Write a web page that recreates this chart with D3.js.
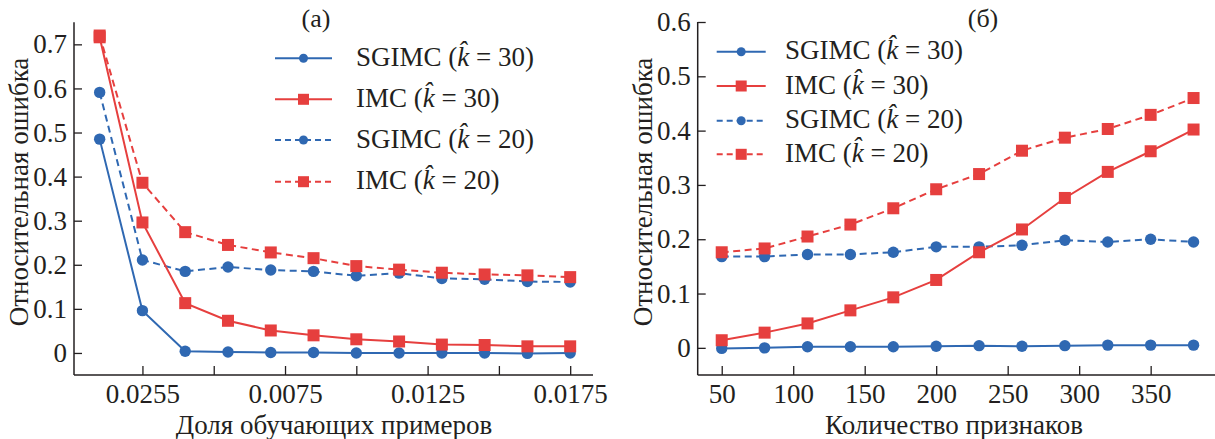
<!DOCTYPE html>
<html><head><meta charset="utf-8">
<script src="https://cdn.jsdelivr.net/npm/d3@7"></script>
<style>
html,body{margin:0;padding:0;background:#fff;}
</style></head>
<body>
<svg id="c" width="1215" height="439"></svg>
<script>
// ---- data (a) ----
const leftX = [0.001, 0.0025, 0.004, 0.0055, 0.007, 0.0085, 0.01, 0.0115, 0.013, 0.0145, 0.016, 0.0175];
const leftSgimc30 = [0.485, 0.096, 0.004, 0.002, 0.001, 0.001, 0.0, 0.0, 0.0, 0.0, -0.001, 0.0];
const leftImc30   = [0.716, 0.296, 0.113, 0.073, 0.051, 0.040, 0.031, 0.026, 0.019, 0.018, 0.015, 0.015];
const leftSgimc20 = [0.591, 0.211, 0.185, 0.195, 0.188, 0.185, 0.175, 0.181, 0.169, 0.167, 0.162, 0.161];
const leftImc20   = [0.720, 0.386, 0.274, 0.245, 0.228, 0.215, 0.197, 0.189, 0.182, 0.178, 0.176, 0.172];
const leftXTicks  = [0.0025, 0.005, 0.0075, 0.01, 0.0125, 0.015, 0.0175];
const leftXTickLabels = ["0.0255", "", "0.0075", "", "0.0125", "", "0.0175"];
const leftYTicks  = [0, 0.1, 0.2, 0.3, 0.4, 0.5, 0.6, 0.7];
// ---- data (б) ----
const rightX = [50, 80, 110, 140, 170, 200, 230, 260, 290, 320, 350, 380];
const rightSgimc30 = [-0.001, 0.0, 0.002, 0.002, 0.002, 0.003, 0.004, 0.003, 0.004, 0.005, 0.005, 0.005];
const rightImc30   = [0.014, 0.028, 0.045, 0.069, 0.093, 0.125, 0.176, 0.218, 0.276, 0.324, 0.362, 0.402];
const rightSgimc20 = [0.168, 0.168, 0.172, 0.172, 0.176, 0.186, 0.186, 0.189, 0.198, 0.195, 0.200, 0.195];
const rightImc20   = [0.176, 0.183, 0.205, 0.227, 0.257, 0.292, 0.320, 0.363, 0.387, 0.403, 0.429, 0.460];
const rightXTicks  = [50, 100, 150, 200, 250, 300, 350];
const rightYTicks  = [0, 0.1, 0.2, 0.3, 0.4, 0.5, 0.6];
// ---- labels ----
const seriesNames = ["SGIMC", "IMC", "SGIMC", "IMC"];
const seriesK = ["30", "30", "20", "20"];
const yTitle = "Относительная ошибка";
const leftXTitle = "Доля обучающих примеров";
const rightXTitle = "Количество признаков";

const BLUE = "#2f68b2", RED = "#e63f3e";
const FONT = "'Liberation Serif', Tinos, 'Times New Roman', 'DejaVu Serif', serif";
const INK = "#231f20";
const svg = d3.select("#c");
const FS = 27;

function fmtY(d){ return d === 0 ? "0" : d3.format(".1f")(d); }

function panel(cfg){
  const g = svg.append("g").attr("font-family", FONT);
  const x = d3.scaleLinear().domain(cfg.xDomain).range(cfg.xRange);
  const y = d3.scaleLinear().domain(cfg.yDomain).range(cfg.yRange);
  const ax = g.append("g").attr("transform", `translate(0,${cfg.yRange[0]})`)
    .call(d3.axisBottom(x).tickValues(cfg.xTicks).tickSize(-9).tickPadding(9)
      .tickFormat((d,i)=>cfg.xTickLabels ? cfg.xTickLabels[i] : d3.format("d")(d)));
  const ay = g.append("g").attr("transform", `translate(${cfg.xRange[0]},0)`)
    .call(d3.axisLeft(y).tickValues(cfg.yTicks).tickSize(-8).tickPadding(7).tickFormat(fmtY));
  [ax, ay].forEach(a=>{
    a.attr("font-family", FONT).attr("font-size", FS);
    a.select(".domain").attr("stroke", INK).attr("stroke-width",1.5);
    a.selectAll(".tick line").attr("stroke", INK).attr("stroke-width",1.3);
    a.selectAll("text").attr("font-size", FS).attr("font-family", FONT).attr("fill", INK);
  });
  ax.select(".domain").attr("d", `M${cfg.xRange[0]},0H${cfg.xRange[1]}`);
  ay.select(".domain").attr("d", `M0,${cfg.yRange[0]}V${cfg.yRange[1]}`);

  const line = d3.line().x((d,i)=>x(cfg.xs[i])).y(d=>y(d));
  const series = [
    {v: cfg.s[2], c: BLUE, dash: true, m: "c"},
    {v: cfg.s[0], c: BLUE, dash: false, m: "c"},
    {v: cfg.s[3], c: RED, dash: true, m: "s"},
    {v: cfg.s[1], c: RED, dash: false, m: "s"},
  ];
  series.forEach(s=>{
    g.append("path").attr("d", line(s.v)).attr("fill","none").attr("stroke", s.c)
      .attr("stroke-width", 2).attr("stroke-dasharray", s.dash ? "7,4.5" : null);
    s.v.forEach((d,i)=>{
      if (s.m === "c") g.append("circle").attr("cx", x(cfg.xs[i])).attr("cy", y(d)).attr("r", 5.7).attr("fill", s.c);
      else g.append("rect").attr("x", x(cfg.xs[i])-6).attr("y", y(d)-6).attr("width", 12).attr("height", 12).attr("fill", s.c);
    });
  });

  cfg.legendRows.forEach((ry, i)=>{
    const c = i % 2 === 0 ? BLUE : RED;
    const dash = i >= 2;
    const lx0 = cfg.legendX[0], lx1 = cfg.legendX[1], mx = (lx0+lx1)/2;
    g.append("line").attr("x1", lx0).attr("x2", lx1).attr("y1", ry).attr("y2", ry)
      .attr("stroke", c).attr("stroke-width", 2).attr("stroke-dasharray", dash ? "6,4" : null);
    if (i % 2 === 0) g.append("circle").attr("cx", mx).attr("cy", ry).attr("r", 4.5).attr("fill", c);
    else g.append("rect").attr("x", mx-5.5).attr("y", ry-5.5).attr("width", 11).attr("height", 11).attr("fill", c);
    const t = g.append("text").attr("x", cfg.legendText).attr("y", ry + 7.5).attr("font-size", FS).attr("fill", INK);
    t.append("tspan").text(seriesNames[i] + " (");
    t.append("tspan").attr("font-style","italic").text("k\u0302");
    t.append("tspan").text(" = " + seriesK[i] + ")");
  });

  g.append("text").attr("x", cfg.panelTitle[0]).attr("y", cfg.panelTitle[1]).attr("font-size", FS-1)
    .attr("text-anchor","middle").attr("fill", INK).text(cfg.panelTitle[2]);
  g.append("text").attr("transform", `translate(${cfg.yTitleX},${192}) rotate(-90)`)
    .attr("text-anchor","middle").attr("font-size", FS).attr("dy","0.35em").attr("fill", INK).text(yTitle);
  g.append("text").attr("x", cfg.xTitleX).attr("y", 433.5).attr("text-anchor","middle")
    .attr("font-size", FS).attr("fill", INK).text(cfg.xTitle);
}

panel({
  xDomain: [0.0001, 0.0183], xRange: [74, 593],
  yDomain: [-0.05, 0.75], yRange: [375, 22.3],
  xTicks: leftXTicks, xTickLabels: leftXTickLabels, yTicks: leftYTicks,
  xs: leftX, s: [leftSgimc30, leftImc30, leftSgimc20, leftImc20],
  legendX: [275, 332], legendText: 356, legendRows: [58.3, 99.3, 140, 181.7],
  panelTitle: [316, 27, "(a)"], yTitleX: 19, xTitleX: 334, xTitle: leftXTitle
});
panel({
  xDomain: [33.2, 395], xRange: [697.7, 1215],
  yDomain: [-0.05, 0.6], yRange: [375, 22],
  xTicks: rightXTicks, xTickLabels: null, yTicks: rightYTicks,
  xs: rightX, s: [rightSgimc30, rightImc30, rightSgimc20, rightImc20],
  legendX: [716.7, 765.7], legendText: 785, legendRows: [51.7, 86, 120.7, 154.3],
  panelTitle: [983, 27, "(б)"], yTitleX: 643, xTitleX: 954, xTitle: rightXTitle
});
</script>
</body></html>
